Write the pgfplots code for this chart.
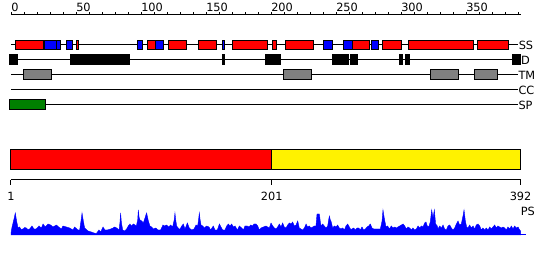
\documentclass[border=0pt]{standalone}
\usepackage{fontspec}
\setmainfont{DejaVu Sans}
\usepackage{pgfplots}
\pgfplotsset{compat=1.18}
\newcommand{\bx}[5]{\addplot[draw=black, line width=0.75pt, fill=#1] coordinates {(#2,#4) (#3,#4) (#3,#5) (#2,#5)} --cycle;}
\pgfplotsset{trk/.style={scale only axis, width=382.2pt, clip=false,
  axis line style={line width=0.75pt, black},
  every tick/.style={line width=0.75pt, black},
  /pgf/number format/assume math mode=true,
  tick label style={font=\fontsize{8.5}{10}\selectfont}},
  noarrow/.style={every outer x axis line/.append style={-}, every inner x axis line/.append style={-}, x axis line style={-}}}
\definecolor{tmgray}{RGB}{128,128,128}
\definecolor{spgreen}{RGB}{0,128,0}
\begin{document}
\begin{tikzpicture}[font=\fontsize{8.5}{10}\selectfont]
\path[use as bounding box] (0,0) rectangle (412.5pt,195pt);
% ---------------- ruler and feature tracks ----------------
\begin{axis}[trk, at={(8.25pt,108.75pt)}, anchor=south west, height=75pt,
  xmin=0, xmax=392, ymin=145, ymax=245,
  axis x line=top, axis y line=none, noarrow,
  xtick={0,50,...,350}, minor xtick={10,20,...,390},
  tick align=outside, major tick length=2.4pt, minor tick length=2.2pt,
  xticklabel style={anchor=south west, inner sep=0pt}]
% SS
\addplot[black, line width=0.75pt] coordinates {(0,215) (390.2,215)};
\bx{red}{3.1}{25}{210.5}{219.5}
\bx{blue}{26}{35}{210.5}{219.5}
\bx{blue}{35}{37.8}{210.5}{219.5}
\bx{blue}{43}{47}{210.5}{219.5}
\bx{red}{50}{52}{210.5}{219.5}
\bx{blue}{97}{101}{210.5}{219.5}
\bx{red}{105}{111}{210.5}{219.5}
\bx{blue}{111}{117}{210.5}{219.5}
\bx{red}{121}{135}{210.5}{219.5}
\bx{red}{144}{158}{210.5}{219.5}
\bx{blue}{162.5}{164.6}{210.5}{219.5}
\bx{red}{170}{197}{210.5}{219.5}
\bx{red}{201}{204}{210.5}{219.5}
\bx{red}{211}{233}{210.5}{219.5}
\bx{blue}{240}{247}{210.5}{219.5}
\bx{blue}{256}{263}{210.5}{219.5}
\bx{red}{263}{276}{210.5}{219.5}
\bx{blue}{277}{283}{210.5}{219.5}
\bx{red}{286}{300.5}{210.5}{219.5}
\bx{red}{306}{356}{210.5}{219.5}
\bx{red}{359}{382.5}{210.5}{219.5}
\node[anchor=west, inner sep=0pt] at (axis cs:390.4,215) {SS};
% D
\addplot[black, line width=0.75pt] coordinates {(0,200) (390.2,200)};
\bx{black}{-0.8}{5.1}{195}{205}
\bx{black}{46}{91}{195}{205}
\bx{black}{163}{164.5}{195}{205}
\bx{black}{195.4}{207.4}{195}{205}
\bx{black}{247.2}{259.6}{195}{205}
\bx{black}{261.2}{266.2}{195}{205}
\bx{black}{299.2}{301.4}{195}{205}
\bx{black}{303.4}{306.9}{195}{205}
\bx{black}{385.6}{392}{195}{205}
\node[anchor=west, inner sep=0pt] at (axis cs:392.2,200) {D};
% TM
\addplot[black, line width=0.75pt] coordinates {(0,185) (390.2,185)};
\bx{tmgray}{9.5}{31.3}{180}{190}
\bx{tmgray}{209.5}{231.3}{180}{190}
\bx{tmgray}{322.6}{344.4}{180}{190}
\bx{tmgray}{356.4}{374.4}{180}{190}
\node[anchor=west, inner sep=0pt] at (axis cs:390.2,185) {TM};
% CC
\addplot[black, line width=0.75pt] coordinates {(0,170) (390.2,170)};
\node[anchor=west, inner sep=0pt] at (axis cs:390.2,170) {CC};
% SP
\addplot[black, line width=0.75pt] coordinates {(0,155) (390.2,155)};
\bx{spgreen}{-0.8}{26.7}{150}{160}
\node[anchor=west, inner sep=0pt] at (axis cs:390.2,155) {SP};
\end{axis}
% ---------------- domain bar ----------------
\begin{axis}[trk, at={(8.25pt,60pt)}, anchor=south west, height=24pt,
  xmin=1, xmax=392, ymin=80, ymax=112,
  axis x line=bottom, axis y line=none, noarrow,
  xtick={1,201,392}, tick align=outside, major tick length=3.5pt,
  xticklabel style={anchor=north, inner sep=0pt, yshift=-5.2pt}]
\bx{red}{1}{201}{90}{110}
\bx{yellow}{201}{392}{90}{110}
\end{axis}
% ---------------- PS profile ----------------
\begin{axis}[trk, at={(8.25pt,18.75pt)}, anchor=south west, height=18.75pt,
  xmin=1, xmax=392, ymin=0, ymax=1, hide axis]
\addplot[draw=blue, fill=blue, line width=0.3pt] coordinates {
(1,0.08) (1.8,0.32) (3.3,0.64) (4.3,0.88) (5.3,0.56) (6.4,0.28) (7.6,0.32) (8.8,0.22) (10.2,0.24) (11.5,0.3) (12.8,0.28) (14,0.22) (15.3,0.24) (17.1,0.36) (18.6,0.24) (20.4,0.24) (22.5,0.36) (24.3,0.28) (25.6,0.44) (27.3,0.32) (29.4,0.44) (31.4,0.4) (33.2,0.32) (35.8,0.4) (37.6,0.32) (39.6,0.24) (40.9,0.36) (43.5,0.32) (46,0.28) (48.6,0.2) (49.8,0.32) (52.4,0.2) (53.7,0.2) (54.7,0.56) (55.5,0.88) (56.5,0.56) (57.5,0.28) (60.1,0.16) (62.6,0.12)
(64.7,0.08) (66.5,0.06) (68.5,0.2) (69.8,0.12) (71.6,0.32) (73.1,0.2) (74.9,0.2) (77.5,0.24) (79.3,0.28) (80.5,0.32) (82.1,0.28) (83.9,0.2) (84.6,0.5) (85.1,0.88) (85.7,0.5) (86.7,0.2) (88.2,0.16) (89.7,0.24) (91,0.36) (92.3,0.44) (93.3,0.36) (94.9,0.44) (96.1,0.4) (97.2,0.36) (98.2,0.6) (98.7,1.0) (99.3,0.7) (100,0.6) (101.3,0.56) (102.5,0.48) (103.8,0.68) (104.5,0.8) (105.1,0.88) (105.8,0.7) (106.4,0.56) (107.6,0.36) (108.9,0.32) (110.2,0.24) (112,0.28) (113.8,0.2) (115.8,0.2) (117.6,0.4) (118.9,0.36) (120.4,0.4) (122,0.32) (123.5,0.4) (125,0.32) (126.2,0.6) (126.8,0.88) (127.4,0.6) (128.1,0.36) (129.9,0.24)
(130.7,0.24) (132,0.36) (133.2,0.44) (134.5,0.24) (136.3,0.48) (137.8,0.28) (139.6,0.2) (141.4,0.24) (143,0.4) (144.2,0.36) (144.9,0.6) (145.5,0.88) (146.1,0.6) (146.8,0.4) (148.1,0.36) (149.3,0.28) (151.1,0.36) (152.9,0.32) (154.2,0.2) (156.2,0.36) (157.5,0.2) (159.3,0.2) (160.9,0.44) (162.1,0.32) (163.4,0.2) (165.2,0.2) (166.5,0.36) (167.8,0.44) (169,0.36) (170.3,0.44) (171.6,0.32) (172.9,0.36) (174.7,0.2) (176.2,0.36) (178,0.28) (179.3,0.2) (180.5,0.36) (182.3,0.36) (183.6,0.32) (184.9,0.4) (186.4,0.36) (187.4,0.44) (189,0.44) (190.3,0.36) (191.5,0.2) (192.8,0.28) (194.6,0.32) (196.7,0.36)
(197.9,0.32) (199.2,0.28) (200.5,0.48) (201.8,0.36) (203.1,0.28) (204.3,0.24) (205.6,0.32) (206.9,0.44) (208.2,0.32) (209.4,0.48) (210.7,0.32) (212,0.28) (213.3,0.4) (214.6,0.48) (215.8,0.44) (217.1,0.52) (218.4,0.36) (219.7,0.4) (221,0.56) (222.2,0.28) (223.5,0.24) (224.8,0.2) (226.1,0.28) (227.4,0.44) (228.6,0.32) (229.9,0.36) (231.2,0.28) (232.5,0.32) (233.7,0.36) (235,0.36) (235.8,0.84) (237.6,0.84) (238.4,0.5) (238.9,0.36) (240.1,0.44) (241.4,0.36) (242.7,0.28) (244,0.36) (244.7,0.6) (245.3,0.76) (246,0.6) (246.5,0.56) (247.8,0.28) (249.1,0.36) (250.4,0.32) (251.6,0.4) (252.9,0.28) (254.2,0.24) (255.5,0.28) (256.8,0.2) (258,0.36) (259.3,0.44) (260.6,0.32) (261.9,0.2)
(262.6,0.24) (263.9,0.28) (265.2,0.2) (266.5,0.28) (267.8,0.28) (269,0.2) (270.3,0.32) (271.6,0.2) (272.9,0.24) (274.2,0.32) (275.4,0.36) (276.7,0.44) (278,0.28) (279.3,0.24) (281.8,0.24) (284.4,0.24) (285.7,0.56) (286.4,1.0) (287.4,0.68) (288.7,0.32) (290,0.36) (291.3,0.24) (292.8,0.36) (294.1,0.28) (295.4,0.32) (296.7,0.28) (297.9,0.32) (299.2,0.36) (300.5,0.4) (301.8,0.44) (303.1,0.36) (304.3,0.24) (305.6,0.32) (306.9,0.28) (308.2,0.2) (309.4,0.28) (310.7,0.2) (312,0.24) (313.3,0.36) (314.6,0.28) (315.8,0.36) (317.1,0.32) (318.4,0.48) (319.4,0.52) (320.4,0.36) (321.5,0.32) (322.7,0.52) (323.8,1.0) (324.8,0.68) (325.8,1.0) (326.8,0.44) (328.1,0.36)
(328.6,0.24) (329.9,0.36) (331.2,0.28) (332.5,0.4) (333.7,0.24) (335,0.2) (336.3,0.36) (337.6,0.4) (338.9,0.28) (340.1,0.2) (341.4,0.28) (342.7,0.44) (344,0.56) (345.2,0.4) (346.5,0.44) (347.8,0.76) (348.6,1.0) (349.6,0.56) (350.6,0.32) (351.6,0.28) (352.9,0.4) (354.2,0.28) (355.5,0.36) (356.8,0.24) (358,0.4) (359.3,0.44) (360.6,0.36) (361.9,0.2) (363.1,0.28) (364.4,0.2) (365.7,0.28) (367,0.2) (368.3,0.32) (369.5,0.24) (370.8,0.32) (372.1,0.4) (373.4,0.28) (374.6,0.36) (375.9,0.32) (377.2,0.28) (378.5,0.32) (379.8,0.28) (381,0.2) (382.3,0.32) (383.6,0.24) (384.9,0.36) (386.2,0.24) (387.4,0.36) (388.7,0.28) (390,0.32) (391.3,0.2) (392,0.16)
} \closedcycle;
\addplot[blue, line width=0.75pt] coordinates {(1,0) (396.5,0)};
\node[anchor=west, inner sep=0pt] at (axis cs:392,0.96) {PS};
\end{axis}
\end{tikzpicture}
\end{document}
